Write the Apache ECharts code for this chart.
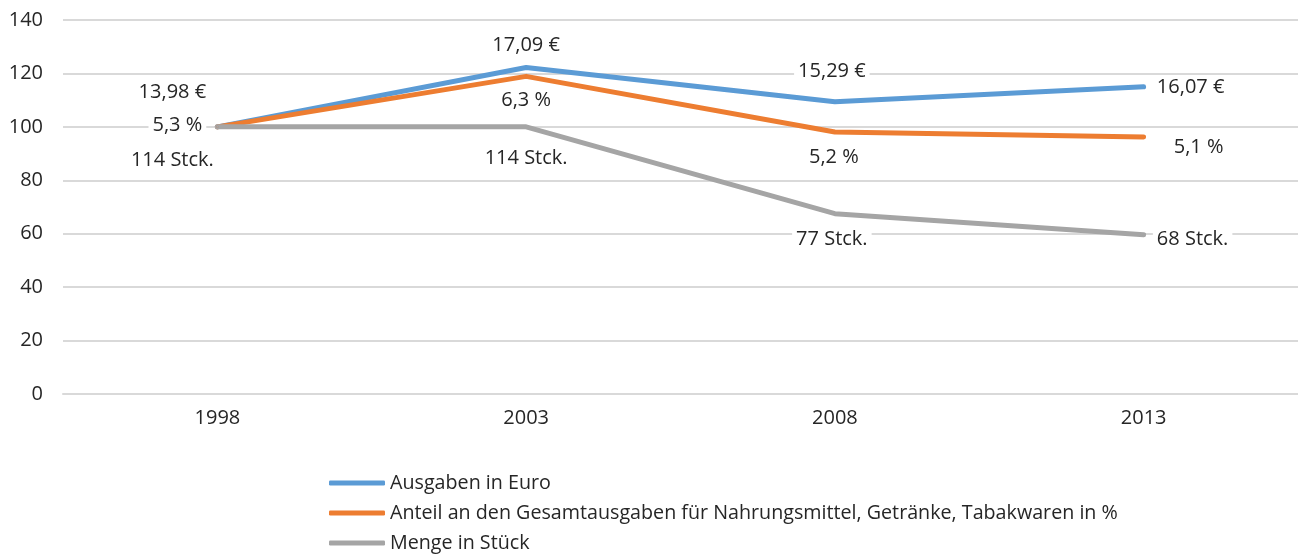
<!DOCTYPE html>
<html>
<head>
<meta charset="utf-8">
<script src="https://cdn.jsdelivr.net/npm/echarts@6/dist/echarts.min.js"></script>
<style>
  html, body { margin: 0; padding: 0; background: #fff; }
  #chart { width: 1298px; height: 556px; }
</style>
</head>
<body>
<div id="chart"></div>
<script>
// Index values, 1998 = 100
var years = ['1998', '2003', '2008', '2013'];
var ausgaben = [100, 122.2, 109.4, 115.0];
var anteil = [100, 118.9, 98.1, 96.2];
var menge = [100, 100, 67.5, 59.6];

var ausgabenLabels = ['13,98 €', '17,09 €', '15,29 €', '16,07 €'];
var anteilLabels = ['5,3 %', '6,3 %', '5,2 %', '5,1 %'];
var mengeLabels = ['114 Stck.', '114 Stck.', '77 Stck.', '68 Stck.'];

var seriesNames = [
  'Ausgaben in Euro',
  'Anteil an den Gesamtausgaben für Nahrungsmittel, Getränke, Tabakwaren in %',
  'Menge in Stück'
];
var colors = ['#5B9BD5', '#ED7D31', '#A5A5A5'];

var chart = echarts.init(document.getElementById('chart'));
var font = '"Open Sans", "Noto Sans", sans-serif';

// label centre relative to the point, per series
var offsets = [
  [[-45, -35], [0, -22], [-3, -30], [47, 1]],
  [[-40, -2], [0, 24], [-1, 25], [55, 10]],
  [[-45, 33], [0, 31], [-3, 26], [49, 5]]
];

function buildData(values, labels, offs) {
  return values.map(function (v, i) {
    return {
      value: v,
      label: {
        formatter: labels[i],
        position: [offs[i][0] + 1, offs[i][1] + 1],
        align: 'center',
        verticalAlign: 'middle'
      }
    };
  });
}

function makeSeries(idx, values, labels) {
  return {
    name: seriesNames[idx],
    type: 'line',
    symbol: 'circle',
    symbolSize: 2,
    showSymbol: true,
    data: buildData(values, labels, offsets[idx]),
    lineStyle: { color: colors[idx], width: 5, cap: 'round', join: 'round' },
    itemStyle: { color: colors[idx] },
    label: {
      show: true,
      color: '#262626',
      fontSize: 20,
      fontFamily: font,
      backgroundColor: '#fff',
      padding: [1, 4]
    },
    labelLayout: { hideOverlap: false },
    emphasis: { disabled: true },
    silent: true
  };
}

var option = {
  animation: false,
  grid: {
    left: 63,
    right: 0,
    top: 20,
    bottom: 162,
    containLabel: false
  },
  legend: {
    orient: 'vertical',
    left: 329,
    top: 472,
    padding: 0,
    icon: 'roundRect',
    itemWidth: 56,
    itemHeight: 5,
    itemGap: 8,
    data: seriesNames.map(function (n, i) {
      return { name: n, itemStyle: { color: colors[i] } };
    }),
    textStyle: { color: '#262626', fontSize: 19.7, lineHeight: 22, fontFamily: font }
  },
  xAxis: {
    type: 'category',
    data: years,
    boundaryGap: true,
    axisLine: { show: true, lineStyle: { color: '#d9d9d9', width: 2 } },
    axisTick: { show: false },
    axisLabel: { color: '#262626', fontSize: 20, fontFamily: font, margin: 14 }
  },
  yAxis: {
    type: 'value',
    min: 0,
    max: 140,
    interval: 20,
    axisLine: { show: false },
    axisTick: { show: false },
    splitLine: { lineStyle: { color: '#d9d9d9', width: 2 } },
    axisLabel: { color: '#262626', fontSize: 20, fontFamily: font, margin: 20 }
  },
  series: [
    makeSeries(0, ausgaben, ausgabenLabels),
    makeSeries(1, anteil, anteilLabels),
    makeSeries(2, menge, mengeLabels)
  ]
};

chart.setOption(option);
</script>
</body>
</html>
